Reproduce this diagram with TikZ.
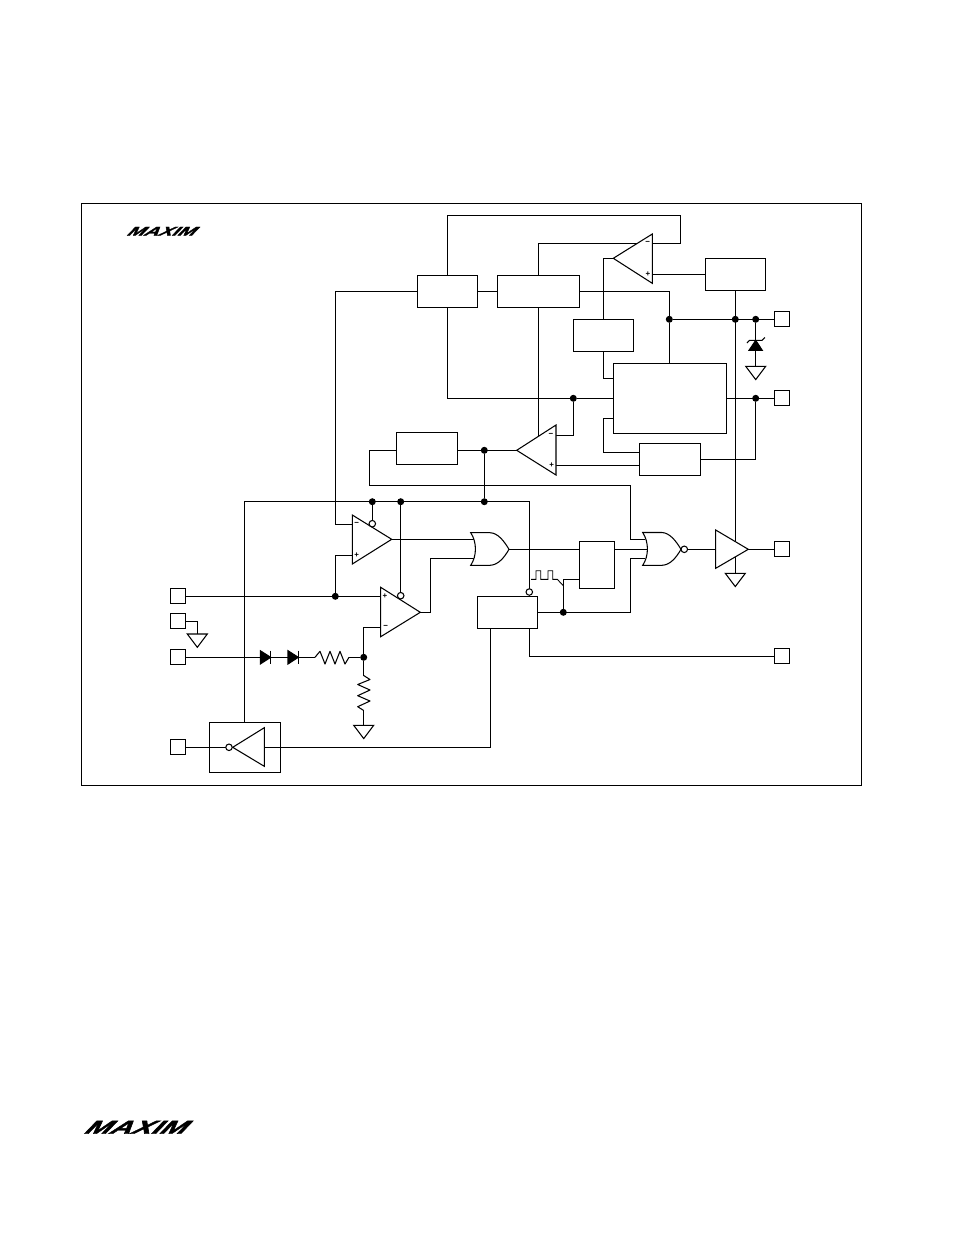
\documentclass[tikz,border=0pt]{standalone}
\usepackage{fontspec}
\setmainfont{Liberation Sans}
\newfontfamily\logofont[BoldItalicFeatures={FakeBold=2}]{Liberation Sans}
\usetikzlibrary{backgrounds}
\begin{document}
\begin{tikzpicture}[x=0.02cm,y=-0.02cm,line width=0.6pt]
\tikzstyle{recti}=[rectangle,draw,inner sep=0pt,outer sep=0pt,minimum width=#1*0.02cm,minimum height=0.64cm]
\tikzstyle{tall}=[minimum height=#1*0.02cm]
\tikzstyle{pad}=[rectangle,draw,inner sep=0pt,outer sep=0pt,minimum size=0.3cm]
\tikzstyle{jdot}=[circle,fill=black,inner sep=0pt,outer sep=0pt,minimum size=0.14cm]
\tikzstyle{bubble}=[circle,draw,fill=white,inner sep=0pt,outer sep=0pt,minimum size=0.13cm]
\tikzstyle{gate}=[draw,fill=white,line join=miter]
\tikzstyle{sign}=[inner sep=0pt,font=\fontsize{4.5}{5}\selectfont\bfseries]
\tikzstyle{logo}=[inner sep=0pt,transform shape,xscale=1.62,xslant=0.4]
\useasboundingbox (0,0) rectangle (954,1235);
% frame and logos
\node [rectangle,draw,inner sep=0pt,minimum width=15.6cm,minimum height=11.64cm] (frame) at (471.3,494.3) {};
\node [logo,font=\fontsize{7.1}{8}\logofont\bfseries\itshape] (logoTop) at (163.3,231.2) {MAXIM};
\node [logo,font=\fontsize{10.6}{11}\logofont\bfseries\itshape] (logoBot) at (138.3,1127.3) {MAXIM};
% boxes
\node [recti=60.4] (boxA) at (447.5,291.3) {};
\node [recti=82] (boxB) at (538.3,291.3) {};
\node [recti=60] (boxC) at (735.3,274.3) {};
\node [recti=60] (boxD) at (603.3,335.3) {};
\node [recti=113,tall=70] (boxM) at (669.8,398.3) {};
\node [recti=61.4] (boxE) at (670,459.3) {};
\node [recti=61.3] (boxF) at (426.7,448.3) {};
\node [recti=60.4] (boxG) at (507.5,612.3) {};
\node [recti=35.4,tall=47] (boxH) at (597,564.8) {};
\node [recti=71,tall=50] (boxI) at (244.8,747.3) {};
% pads
\node [pad] (padA) at (782,319.3) {};
\node [pad] (padB) at (782,398.3) {};
\node [pad] (padC) at (782,549.3) {};
\node [pad] (padD) at (782,656.3) {};
\node [pad] (padE) at (178,596.3) {};
\node [pad] (padF) at (178,621.3) {};
\node [pad] (padG) at (178,657.3) {};
\node [pad] (padH) at (178,747.3) {};
% junctions
\node [jdot] (jA) at (669.3,319.3) {};
\node [jdot] (jB) at (735.3,319.3) {};
\node [jdot] (jC) at (755.7,319.3) {};
\node [jdot] (jD) at (755.7,398.3) {};
\node [jdot] (jE) at (573.3,398.3) {};
\node [jdot] (jF) at (484.3,450.3) {};
\node [jdot] (jG) at (484.3,501.7) {};
\node [jdot] (jH) at (372.3,501.7) {};
\node [jdot] (jI) at (400.7,501.7) {};
\node [jdot] (jK) at (335.3,596.3) {};
\node [jdot] (jL) at (563.3,612.3) {};
\node [jdot] (jM) at (363.7,657.3) {};
% gate corners used by the wires
\coordinate (ampTop) at (613.3,258.3);
\coordinate (ampMid) at (516.7,450.3);
\coordinate (ampP) at (391.7,539.3);
\coordinate (ampQ) at (420.3,612.3);
\coordinate (orOut) at (509,549.3);
\coordinate (bufOut) at (748.3,549.3);
\coordinate (invBack) at (264.3,747.3);
\coordinate (gndZ) at (755.7,366.3);
\coordinate (gndB) at (735.3,573.3);
\coordinate (gndF) at (197.3,634);
\coordinate (gndR) at (363.7,725.3);
% amplifiers
\draw [gate] (ampTop) -- (652.3,234) -- (652.3,283.3) -- cycle;
\draw [gate] (ampMid) -- (556,425) -- (556,475) -- cycle;
\draw [gate] (ampP) -- (352.3,515) -- (352.3,564) -- cycle;
\draw [gate] (ampQ) -- (380.7,587.3) -- (380.7,636.7) -- cycle;
\draw [gate] (bufOut) -- (715.7,530) -- (715.7,568.3) -- cycle;
\draw [gate] (232.7,747.3) -- (264.3,727.7) -- (264.3,766.3) -- cycle;
\node [sign] (sgnA) at (647.7,243.3) {−};
\node [sign] (sgnB) at (648,274.3) {+};
\node [sign] (sgnC) at (551,435.3) {−};
\node [sign] (sgnD) at (551.7,465.3) {+};
\node [sign] (sgnE) at (356.7,524.3) {−};
\node [sign] (sgnF) at (356.7,555.3) {+};
\node [sign] (sgnG) at (385,596.3) {+};
\node [sign] (sgnH) at (385.7,627.3) {−};
% or and nor gates
\draw [gate] (470.7,532.7) -- (490,532.7) .. controls (498,533) and (504,541) .. (orOut) .. controls (504,558) and (498,565) .. (490,565.3) -- (470.7,565.3) .. controls (477,556) and (477,542) .. (470.7,532.7) -- cycle;
\draw [gate] (642.7,532.5) -- (662,532.5) .. controls (670,533) and (676,541) .. (681,549.3) .. controls (676,558) and (670,565) .. (662,565.3) -- (642.7,565.3) .. controls (649,556) and (649,542) .. (642.7,532.5) -- cycle;
% inversion bubbles
\node [bubble] (bubP) at (372.3,523.7) {};
\node [bubble] (bubQ) at (400.7,595.7) {};
\node [bubble] (bubG) at (529.3,592) {};
\node [bubble] (bubN) at (684.3,549.3) {};
\node [bubble] (bubI) at (229,747.3) {};
% clock waveform
\draw [line width=0.5pt] (531,579.3) -- (536,579.3) -- (536,570.7) -- (540.7,570.7) -- (540.7,579.3) -- (548,579.3) -- (548,570.7) -- (552.7,570.7) -- (552.7,579.3) -- (557.3,579.3) -- (563.3,585.7);
% zener
\draw [fill=black] (749,350.3) -- (762.3,350.3) -- (755.7,340.3) -- cycle;
\draw (747,343) -- (749.5,340.3) -- (762,340.3) -- (765,337.5);
% grounds
\draw [gate] (gndZ) ++(-10,0) -- ++(20,0) -- ++(-10,13.3) -- cycle;
\draw [gate] (gndB) ++(-10,0) -- ++(20,0) -- ++(-10,13.3) -- cycle;
\draw [gate] (gndF) ++(-10,0) -- ++(20,0) -- ++(-10,13.3) -- cycle;
\draw [gate] (gndR) ++(-10,0) -- ++(20,0) -- ++(-10,13.3) -- cycle;
% diodes and resistors
\draw [fill=black] (260.3,650.7) -- (270.7,657.3) -- (260.3,664) -- cycle;
\draw (270.7,650.7) -- (270.7,664);
\draw [fill=black] (288,650.7) -- (298.3,657.3) -- (288,664) -- cycle;
\draw (298.3,650.7) -- (298.3,664);
\fill [white] (315,650) rectangle (349,665);
\draw [line join=round] (315,657.3) -- (320,651.3) -- (325,664) -- (330,651.3) -- (335,664) -- (340,651.3) -- (345,664) -- (349,657.3);
\fill [white] (357,676) rectangle (371,710);
\draw [line join=round] (363.7,675.5) -- (370,679.5) -- (357.7,684.5) -- (370,690) -- (357.7,695.7) -- (370,701) -- (357.7,706.7) -- (363.7,710.5);
% wires
\begin{scope}[on background layer]
\draw (boxB.north) |- (680.3,243.3) |- (447.5,215.3) -- (boxA.north);
\draw (boxB.south) -- (538.3,445);
\draw (boxA.east) -- (boxB.west);
\draw (boxA.west) -| (335.3,524.3) -- (352.3,524.3);
\draw (boxB.east) -| (jA) -- (boxM.north -| jA);
\draw (ampTop) -- (603.3,258.3) -- (boxD.north);
\draw (652.3,274.3) -- (boxC.west |- 652.3,274.3);
\draw (boxC.south) -- (gndB);
\draw (jA) -- (padA);
\draw (jC) -- (gndZ);
\draw (boxD.south) |- (613.3,378.3);
\draw (boxA.south) |- (jE) -- (boxM.west |- jE);
\draw (boxM.east |- jD) -- (padB);
\draw (jD) |- (boxE.east);
\draw (639.3,452.3) -| (603.3,418.3) -- (613.3,418.3);
\draw (639.3,465.3) -- (556,465.3);
\draw (556,435.3) -| (jE);
\draw (boxF.east |- jF) -- (ampMid);
\draw (jF) -- (jG);
\draw (boxF.west |- jF) -| (369.3,485.3) -| (630.3,539.3) -- (645,539.3);
\draw (boxI.north) |- (529.3,501.7) -- (bubG);
\draw (jH) -- (bubP);
\draw (jI) -- (bubQ);
\draw (352.3,555.3) -| (jK);
\draw (padE) -- (380.7,596.3);
\draw (ampP) -- (474,539.3);
\draw (ampQ) -| (430.3,558.7) -- (474,558.7);
\draw (380.7,627.3) -| (jM);
\draw (orOut) -- (boxH.west |- orOut);
\draw (boxH.east |- orOut) -- (648,549.3);
\draw (630.3,558.7) -- (645,558.7);
\draw (boxG.east |- jL) -- (630.3,612.3) -- (630.3,558.7);
\draw (jL) |- (boxH.west |- 563,579.3);
\draw (bubN) -- (715.7,549.3);
\draw (bufOut) -- (padC);
\draw (529.3,628.3) |- (padD);
\draw (490.7,628.3) |- (invBack);
\draw (invBack) -- (boxI.east |- invBack);
\draw (padH) -- (bubI);
\draw (padF) -| (gndF);
\draw (padG) -- (jM);
\draw (jM) -- (gndR);
\end{scope}
\end{tikzpicture}
\end{document}
